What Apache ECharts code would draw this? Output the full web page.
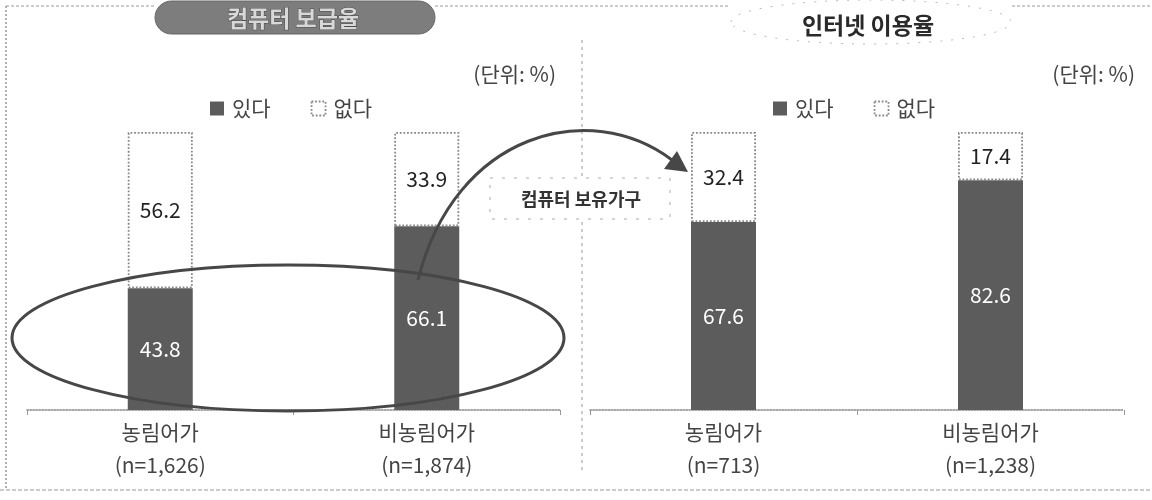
<!DOCTYPE html>
<html><head><meta charset="utf-8">
<script src="https://cdn.jsdelivr.net/npm/echarts@6/dist/echarts.min.js"></script>
<style>html,body{margin:0;padding:0;background:#fff}#c{width:1152px;height:500px}</style>
</head><body><div id="c"></div>
<script>
const categories = ['농림어가', '비농림어가'];
const nComputer = ['1,626', '1,874'];
const nInternet = ['713', '1,238'];
const seriesNames = ['있다', '없다'];
const computerYes = [43.8, 66.1];
const computerNo = [56.2, 33.9];
const internetYes = [67.6, 82.6];
const internetNo = [32.4, 17.4];
const panelTitles = ['컴퓨터 보급율', '인터넷 이용율'];
const unitText = '(단위: %)';
const noteText = '컴퓨터 보유가구';

const FONT = '"Noto Sans CJK KR", "Noto Sans", sans-serif';
const darkColor = '#5c5c5c';
const yesStyle = { color: darkColor };
const noStyle = { color: '#ffffff', borderColor: '#888', borderWidth: 1.8, borderType: 'dotted' };

function labelsFor(ns) { return categories.map((c, i) => c + '\n(n=' + ns[i] + ')'); }

function xAxis(gi, ns) {
  return {
    type: 'category', gridIndex: gi, data: labelsFor(ns),
    axisLine: { lineStyle: { color: '#888', type: 'dotted', width: 1.5 } },
    axisTick: { show: true, length: 5, lineStyle: { color: '#999' } },
    axisLabel: { fontFamily: FONT, fontSize: 21, color: '#444', lineHeight: 33, margin: 6 }
  };
}
function yAxis(gi) {
  return { type: 'value', gridIndex: gi, min: 0, max: 100, show: false, splitLine: { show: false } };
}
function bar(name, gi, data, style, labelColor) {
  return {
    name: name, type: 'bar', stack: 's' + gi, xAxisIndex: gi, yAxisIndex: gi,
    data: data, barWidth: 65, itemStyle: style, emphasis: { disabled: true },
    label: { show: true, position: 'inside', fontFamily: FONT, fontSize: 21, color: labelColor,
      formatter: p => p.value.toFixed(1) }
  };
}
function legend(left) {
  return {
    left: left, top: 93, itemWidth: 14, itemHeight: 14, itemGap: 40, icon: 'rect',
    textStyle: { fontFamily: FONT, fontSize: 21, color: '#444', padding: [0, 0, 0, 3] },
    selectedMode: false,
    data: [{ name: seriesNames[0], itemStyle: yesStyle }, { name: seriesNames[1], itemStyle: noStyle }]
  };
}

const chart = echarts.init(document.getElementById('c'));
chart.setOption({
  animation: false,
  grid: [
    { left: 27, right: 592, top: 132, bottom: 90 },
    { left: 590, right: 28, top: 132, bottom: 90 }
  ],
  xAxis: [xAxis(0, nComputer), xAxis(1, nInternet)],
  yAxis: [yAxis(0), yAxis(1)],
  legend: [legend(205), legend(768)],
  series: [
    bar(seriesNames[0], 0, computerYes, yesStyle, '#fff'),
    bar(seriesNames[1], 0, computerNo, noStyle, '#222'),
    bar(seriesNames[0], 1, internetYes, yesStyle, '#fff'),
    bar(seriesNames[1], 1, internetNo, noStyle, '#222')
  ],
  graphic: [
    { type: 'line', shape: { x1: 6, y1: 6, x2: 6, y2: 490 }, style: { stroke: '#999', lineWidth: 1.5, lineDash: [2, 2] } },
    { type: 'line', shape: { x1: 6, y1: 6, x2: 155, y2: 6 }, style: { stroke: '#999', lineWidth: 1.2, lineDash: [3, 2] } },
    { type: 'line', shape: { x1: 435, y1: 6, x2: 730, y2: 6 }, style: { stroke: '#999', lineWidth: 1.2, lineDash: [3, 2] } },
    { type: 'line', shape: { x1: 1012, y1: 6, x2: 1152, y2: 6 }, style: { stroke: '#999', lineWidth: 1.2, lineDash: [3, 2] } },
    { type: 'line', shape: { x1: 0, y1: 490, x2: 1152, y2: 490 }, style: { stroke: '#999', lineWidth: 1.2, lineDash: [4, 2] } },
    { type: 'line', shape: { x1: 582, y1: 40, x2: 582, y2: 470 }, style: { stroke: '#aaa', lineWidth: 1.2, lineDash: [3, 4] } },
    { type: 'rect', shape: { x: 155, y: 1, width: 280, height: 33, r: 17 }, style: { fill: '#7d7d7d', stroke: '#666', lineWidth: 1 }, z: 10 },
    { type: 'text', x: 293, y: 18, z: 11, style: { text: panelTitles[0], fontFamily: FONT, fontSize: 23, fontWeight: 'bold', fill: '#d8d8d8', stroke: '#4a4a4a', lineWidth: 1, align: 'center', verticalAlign: 'middle' } },
    { type: 'ellipse', shape: { cx: 871, cy: 22, rx: 140, ry: 22 }, style: { fill: '#fff', stroke: '#bbb', lineWidth: 1, lineDash: [2, 9] }, z: 10 },
    { type: 'text', x: 868, y: 25, z: 11, style: { text: panelTitles[1], fontFamily: FONT, fontSize: 23, fontWeight: 'bold', fill: '#2a2a2a', align: 'center', verticalAlign: 'middle' } },
    { type: 'text', x: 556, y: 74, style: { text: unitText, fontFamily: FONT, fontSize: 21, fill: '#444', align: 'right', verticalAlign: 'middle' } },
    { type: 'text', x: 1135, y: 74, style: { text: unitText, fontFamily: FONT, fontSize: 21, fill: '#444', align: 'right', verticalAlign: 'middle' } },
    { type: 'rect', shape: { x: 490, y: 178, width: 180, height: 41 }, style: { fill: '#fff', stroke: '#aaa', lineWidth: 1, lineDash: [3, 9] }, z: 20 },
    { type: 'text', x: 581, y: 199, z: 21, style: { text: noteText, fontFamily: FONT, fontSize: 18, fontWeight: 'bold', fill: '#333', align: 'center', verticalAlign: 'middle' } },
    { type: 'ellipse', shape: { cx: 288, cy: 338, rx: 276, ry: 73 }, style: { fill: 'none', stroke: '#474747', lineWidth: 3 }, z: 30 },
    { type: 'bezierCurve', shape: { x1: 418, y1: 280, cpx1: 455, cpy1: 132, cpx2: 590, cpy2: 98, x2: 672, y2: 160 }, style: { fill: 'none', stroke: '#474747', lineWidth: 3 }, z: 30 },
    { type: 'polygon', shape: { points: [[688, 172], [664, 169], [677, 151]] }, style: { fill: '#474747' }, z: 30 }
  ]
});
</script></body></html>
